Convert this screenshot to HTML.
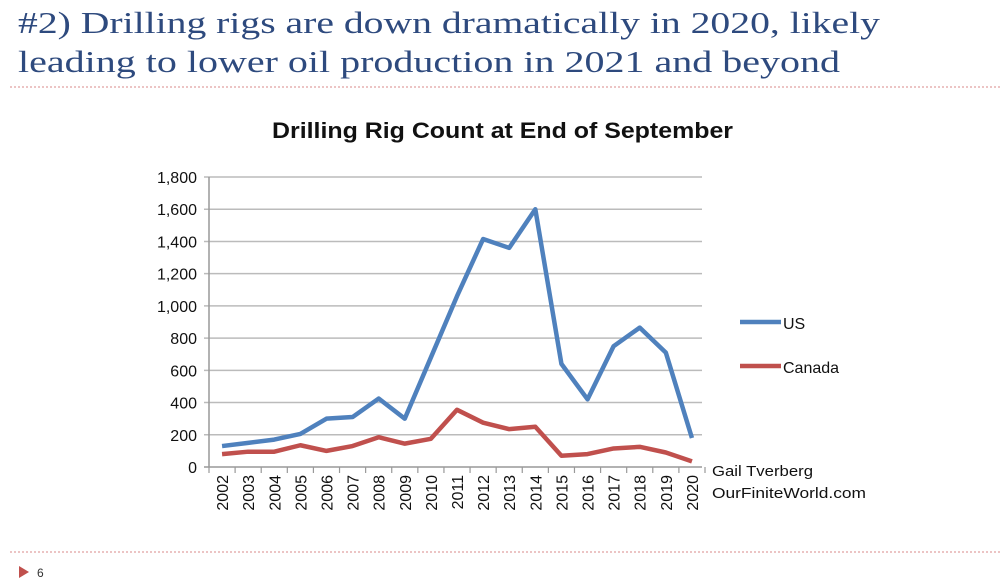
<!DOCTYPE html>
<html><head><meta charset="utf-8"><style>
body{margin:0;background:#fff;width:1008px;height:584px;overflow:hidden}
svg{display:block}
</style></head><body>
<svg width="1008" height="584" viewBox="0 0 1008 584">
<text x="18" y="33" font-family="Liberation Serif, serif" font-size="31" fill="#2e4a7e" textLength="862" lengthAdjust="spacingAndGlyphs">#2) Drilling rigs are down dramatically in 2020, likely</text>
<text x="18" y="72" font-family="Liberation Serif, serif" font-size="31" fill="#2e4a7e" textLength="822" lengthAdjust="spacingAndGlyphs">leading to lower oil production in 2021 and beyond</text>
<line x1="10" y1="87" x2="1000" y2="87" stroke="#e0a0a0" stroke-width="1.2" stroke-dasharray="2,2"/>
<text x="272" y="138" font-family="Liberation Sans, sans-serif" font-weight="bold" font-size="22" fill="#111" textLength="461" lengthAdjust="spacingAndGlyphs">Drilling Rig Count at End of September</text>
<g id="grid"></g><g id="axes"></g><g id="series"></g>
<line x1="740" y1="322" x2="781" y2="322" stroke="#4f81bd" stroke-width="4.5"/>
<text x="783" y="329" font-family="Liberation Sans, sans-serif" font-size="16" fill="#111">US</text>
<line x1="740" y1="366" x2="781" y2="366" stroke="#c0504d" stroke-width="4.5"/>
<text x="783" y="373" font-family="Liberation Sans, sans-serif" font-size="16" fill="#111">Canada</text>
<text x="712" y="476" font-family="Liberation Sans, sans-serif" font-size="15" fill="#111" textLength="101" lengthAdjust="spacingAndGlyphs">Gail Tverberg</text>
<text x="712" y="498" font-family="Liberation Sans, sans-serif" font-size="15" fill="#111" textLength="154" lengthAdjust="spacingAndGlyphs">OurFiniteWorld.com</text>
<line x1="10" y1="552" x2="1000" y2="552" stroke="#e0a0a0" stroke-width="1.2" stroke-dasharray="2,2"/>
<polygon points="19,566 19,578 29,572" fill="#c0504d"/>
<text x="37" y="577" font-family="Liberation Sans, sans-serif" font-size="12" fill="#333">6</text>
</svg>
<script>
const years=['2002','2003','2004','2005','2006','2007','2008','2009','2010','2011','2012','2013','2014','2015','2016','2017','2018','2019','2020'];
const usValues=[130,150,170,205,300,310,425,300,680,1060,1415,1360,1600,640,420,750,865,710,180];
const canadaValues=[80,95,95,135,100,130,185,145,175,355,275,235,250,70,80,115,125,90,35];
const yTicks=[0,200,400,600,800,1000,1200,1400,1600,1800];
const yTickLabels=['0','200','400','600','800','1,000','1,200','1,400','1,600','1,800'];
const NS='http://www.w3.org/2000/svg';
const L=209,R=705,T=177,B=467,yMax=1800;
const step=(R-L)/years.length;
function xS(i){return L+step*(i+0.5);}
function yS(v){return B-(v/yMax)*(B-T);}
function mk(tag,attrs,parent){const e=document.createElementNS(NS,tag);for(const k in attrs)e.setAttribute(k,attrs[k]);parent.appendChild(e);return e;}
const grid=document.getElementById('grid'),axes=document.getElementById('axes'),series=document.getElementById('series');
yTicks.forEach((v,i)=>{
  const y=yS(v);
  const g=mk('line',{x1:L-5,y1:y,x2:R-3,y2:y,stroke:v===0?'#999':'#bbb','stroke-width':1.5},grid);
  
  
  const t=mk('text',{x:L-12,y:y+6,'text-anchor':'end','font-family':'Liberation Sans, sans-serif','font-size':16,fill:'#111'},axes);
  t.textContent=yTickLabels[i];
  
  
});
const ax=mk('line',{x1:L,y1:T,x2:L,y2:B,stroke:'#999','stroke-width':1.5},axes);


for(let i=0;i<=years.length;i++){
  const x=L+step*i;
  const tk=mk('line',{x1:x,y1:B,x2:x,y2:B+6,stroke:'#999','stroke-width':1.2},axes);
  
  
}
years.forEach((yr,i)=>{
  const x=xS(i)+6,y=B+8;
  const t=mk('text',{x:x,y:y,transform:`rotate(-90 ${x} ${y})`,'text-anchor':'end','font-family':'Liberation Sans, sans-serif','font-size':16,fill:'#111'},axes);
  t.textContent=yr;
  
  
});
function line(vals,color,name){
  const p=mk('polyline',{points:vals.map((v,i)=>xS(i)+','+yS(v)).join(' '),fill:'none',stroke:color,'stroke-width':4.5,'stroke-linejoin':'round'},series);
  
  
}
line(canadaValues,'#c0504d','canada-line');
line(usValues,'#4f81bd','us-line');
</script>
</body></html>
